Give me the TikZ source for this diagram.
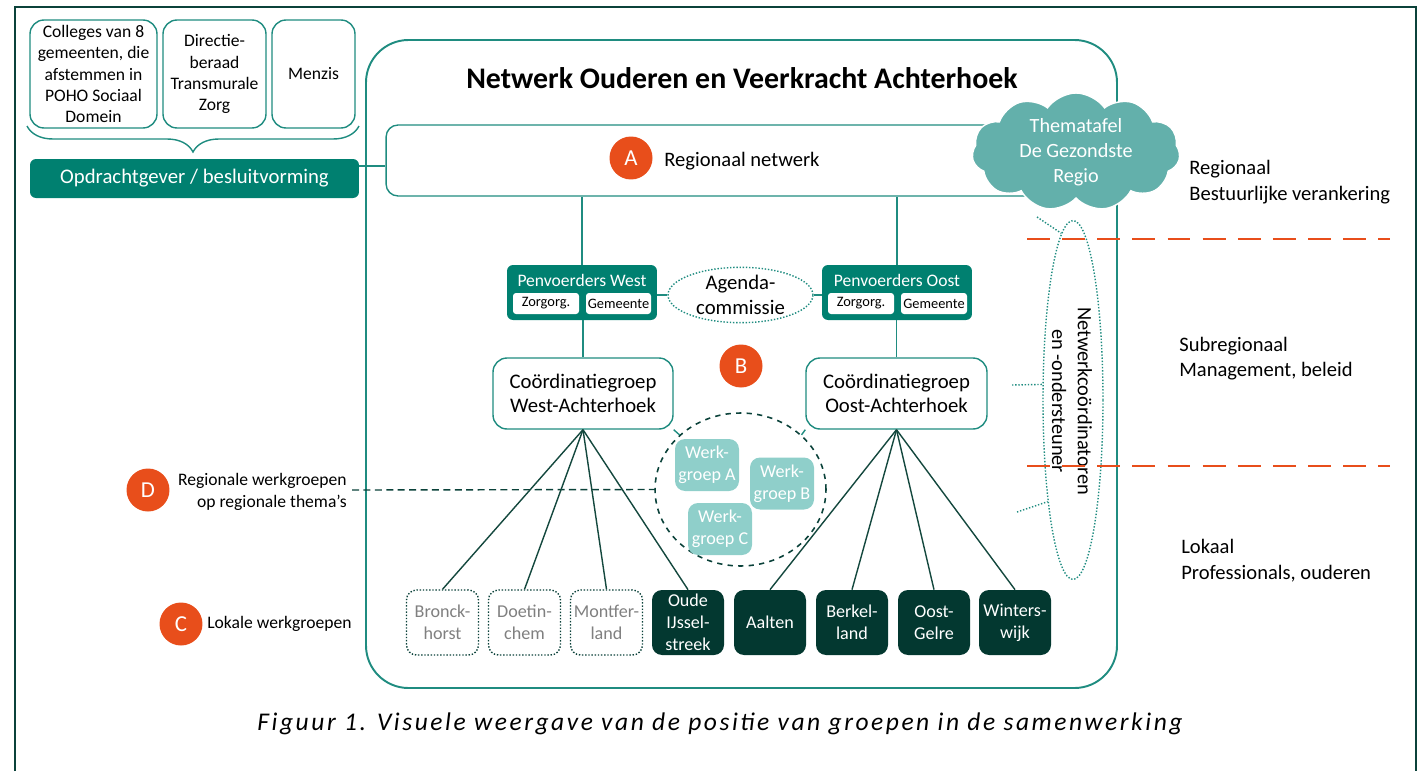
\documentclass[tikz,border=0pt]{standalone}
\usepackage{fontspec}
\setmainfont{Carlito}
\newfontfamily\capfont[LetterSpace=10]{Carlito}
\usetikzlibrary{shapes.geometric,shapes.symbols,decorations.pathreplacing}
\definecolor{kader}{RGB}{11,66,58}
\definecolor{nwteal}{RGB}{31,140,128}
\definecolor{vlak}{RGB}{0,128,112}
\definecolor{wolk}{RGB}{99,176,171}
\definecolor{wgvlak}{RGB}{143,207,202}
\definecolor{donker}{RGB}{3,56,48}
\definecolor{oranje}{RGB}{232,78,27}
\definecolor{waaier}{RGB}{20,72,62}
\newcommand\fsz[2]{\fontsize{#1}{#2}\selectfont}

\begin{document}
\begin{tikzpicture}[x=0.02cm,y=-0.02cm,
    lijn/.style={draw=nwteal,line width=0.8pt},
    wit/.style={draw=nwteal,line width=0.8pt,fill=white,rounded corners=0.28cm,align=center,inner sep=0pt},
    tealvlak/.style={fill=vlak,rounded corners=0.12cm,text=white,inner sep=0pt},
    mini/.style={fill=white,rounded corners=0.06cm,minimum height=0.42cm,inner sep=0pt,font=\fsz{8.2}{10}},
    badge/.style={circle,fill=oranje,text=white,minimum size=0.86cm,inner sep=0pt,font=\fsz{13}{15}},
    wgbox/.style={fill=wgvlak,rounded corners=0.2cm,text=white,align=center,inner sep=0pt,
        minimum width=1.28cm,minimum height=1.04cm,font=\fsz{10.3}{12.5}},
    gemdot/.style={draw=kader,densely dotted,line width=0.8pt,fill=white,text=black!50,rounded corners=0.2cm,
        align=center,inner sep=0pt,minimum width=1.44cm,minimum height=1.3cm,font=\fsz{10.3}{12.5}},
    gemdark/.style={fill=donker,text=white,rounded corners=0.2cm,
        align=center,inner sep=0pt,minimum width=1.44cm,minimum height=1.3cm,font=\fsz{10.3}{12.5}},
    waaierlijn/.style={draw=waaier,line width=0.8pt},
    stippel/.style={draw=nwteal,densely dotted,line width=0.8pt},
    grens/.style={draw=oranje,line width=1.4pt,dash pattern=on 13pt off 7pt},
    niveau/.style={anchor=west,align=left,inner sep=0pt,font=\fsz{11.7}{14.6}}]
    \useasboundingbox (0,0) rectangle (1420,771);
    \draw[kader,line width=1.5pt] (15,771) -- (15,7) -- (1416,7) -- (1416,771);
    % opdrachtgevers
    \node[wit,minimum width=2.54cm,minimum height=2.16cm,font=\fsz{10}{12}] (colleges) at (93.5,74)
        {Colleges van 8\\gemeenten, die\\afstemmen in\\POHO Sociaal\\Domein};
    \node[wit,minimum width=2.06cm,minimum height=2.16cm,font=\fsz{10}{12}] (directie) at (214.5,74)
        {Directie-\\beraad\\Transmurale\\Zorg};
    \node[wit,minimum width=1.66cm,minimum height=2.16cm,font=\fsz{10}{12}] (menzis) at (313.5,74) {Menzis};
    \draw[lijn,decorate,decoration={brace,mirror,amplitude=0.52cm}] (27,126) -- (359,126);
    \node[tealvlak,minimum width=6.58cm,minimum height=0.78cm,font=\fsz{11.8}{14}] (opdracht) at (194.5,178.5)
        {Opdrachtgever / besluitvorming};
    % netwerk
    \draw[nwteal,line width=1.1pt,rounded corners=0.85cm] (366,40) rectangle (1117,688);
    \node[font=\bfseries\fsz{17}{20}] (titel) at (742,78) {Netwerk Ouderen en Veerkracht Achterhoek};
    \node[wit,minimum width=13.48cm,minimum height=1.42cm,rounded corners=0.24cm] (regio) at (723,160.5) {};
    \node[badge] (bolA) at (631,158) {A};
    \node[anchor=west,inner sep=0pt,font=\fsz{11.7}{14}] (regiotekst) at (664,161) {Regionaal netwerk};
    \node[cloud,cloud puffs=11,cloud puff arc=110,aspect=1.75,fill=wolk,draw=white,line width=0.8pt,
        text=white,align=center,inner sep=0pt,minimum width=4.16cm,minimum height=2.36cm,
        font=\fsz{11.5}{14.2}] (thematafel) at (1076,152) {Thematafel\\De Gezondste\\Regio};
    \draw[lijn] ([yshift=0.25cm]opdracht.east) -- ([yshift=0.25cm]opdracht.east -| regio.west);
    % penvoerders
    \node[tealvlak,minimum width=3cm,minimum height=1.1cm] (pwest) at (582,292.5) {};
    \node[text=white,font=\fsz{10}{12}] (pwestkop) at (582,280) {Penvoerders West};
    \node[mini,minimum width=1.32cm] (pwzorg) at (546,303.5) {Zorgorg.};
    \node[mini,minimum width=1.3cm] (pwgem) at (618.5,303.5) {Gemeente};
    \node[tealvlak,minimum width=3cm,minimum height=1.1cm] (poost) at (897,292.5) {};
    \node[text=white,font=\fsz{10}{12}] (poostkop) at (897,280) {Penvoerders Oost};
    \node[mini,minimum width=1.32cm] (pozorg) at (861,303.5) {Zorgorg.};
    \node[mini,minimum width=1.32cm] (pogem) at (934,303.5) {Gemeente};
    \node[ellipse,stippel,align=center,inner sep=0pt,minimum width=2.9cm,minimum height=1.08cm,
        font=\fsz{11.8}{14}] (agenda) at (740.5,295) {Agenda-\\commissie};
    \draw[lijn] (pwest.north) -- (pwest.north |- regio.south);
    \draw[lijn] (poost.north) -- (poost.north |- regio.south);
    \draw[lijn] (pwest.east |- agenda.west) -- (agenda.west);
    \draw[lijn] (agenda.east) -- (poost.west |- agenda.east);
    % coordinatiegroepen
    \node[wit,minimum width=3.6cm,minimum height=1.42cm,font=\fsz{11.8}{14}] (cwest) at (583,393.5)
        {Coördinatiegroep\\West-Achterhoek};
    \node[wit,minimum width=3.62cm,minimum height=1.42cm,font=\fsz{11.8}{14}] (coost) at (896.5,393.5)
        {Coördinatiegroep\\Oost-Achterhoek};
    \draw[lijn] (pwest.south -| cwest.north) -- (cwest.north);
    \draw[lijn] (poost.south -| coost.north) -- (coost.north);
    \node[badge] (bolB) at (741,366) {B};
    % werkgroepen
    \node[ellipse,draw=kader,dashed,line width=0.9pt,minimum width=3.42cm,minimum height=3.06cm] (werkgroepen) at (740.5,489.5) {};
    \draw[lijn] (cwest.south east) -- (werkgroepen.north west);
    \draw[lijn] (coost.south west) -- (werkgroepen.north east);
    \node[wgbox] (wgA) at (707,465) {Werk-\\groep A};
    \node[wgbox] (wgB) at (782,483.5) {Werk-\\groep B};
    \node[wgbox] (wgC) at (720,529) {Werk-\\groep C};
    \node[badge] (bolD) at (148,490) {D};
    \node[anchor=east,align=right,inner sep=0pt,font=\fsz{10}{12.5}] (regwerk) at (347,492)
        {Regionale werkgroepen\\op regionale thema’s};
    \coordinate (dbegin) at (352,490);
    \draw[kader,line width=0.8pt,dash pattern=on 4pt off 2.5pt] (dbegin) -- (werkgroepen.west);
    % lokale werkgroepen
    \node[badge] (bolC) at (181,624) {C};
    \node[anchor=west,inner sep=0pt,font=\fsz{10}{12}] (lokwerk) at (207,624) {Lokale werkgroepen};
    \node[gemdot] (bronckhorst) at (442.5,622.5) {Bronck-\\horst};
    \node[gemdot] (doetinchem) at (524.5,622.5) {Doetin-\\chem};
    \node[gemdot] (montferland) at (606.5,622.5) {Montfer-\\land};
    \node[gemdark] (oude) at (688,622.5) {Oude\\IJssel-\\streek};
    \node[gemdark] (aalten) at (770,622.5) {Aalten};
    \node[gemdark] (berkelland) at (852,622.5) {Berkel-\\land};
    \node[gemdark] (oostgelre) at (934,622.5) {Oost-\\Gelre};
    \node[gemdark] (winterswijk) at (1015,622.5) {Winters-\\wijk};
    \draw[waaierlijn] (cwest.south) -- (bronckhorst.north);
    \draw[waaierlijn] (cwest.south) -- (doetinchem.north);
    \draw[waaierlijn] (cwest.south) -- (montferland.north);
    \draw[waaierlijn] (cwest.south) -- (oude.north);
    \draw[waaierlijn] (coost.south) -- (aalten.north);
    \draw[waaierlijn] (coost.south) -- (berkelland.north);
    \draw[waaierlijn] (coost.south) -- (oostgelre.north);
    \draw[waaierlijn] (coost.south) -- (winterswijk.north);
    % netwerkcoordinatoren
    \node[ellipse,stippel,minimum width=1.2cm,minimum height=7.18cm] (ondersteuning) at (1073,400) {};
    \node[rotate=-90,align=center,inner sep=0pt,font=\fsz{11.6}{14.7}] (ondersteuningtekst) at (1072,401)
        {Netwerkcoördinatoren\\en -ondersteuner};
    \coordinate (stip1) at (1037,217);
    \coordinate (stip2) at (1012,385);
    \coordinate (stip3) at (1017,512);
    \draw[stippel] (stip1) -- (ondersteuning.94);
    \draw[stippel] (stip2) -- (ondersteuning.153);
    \draw[stippel] (stip3) -- (ondersteuning.256);
    % niveaus
    \coordinate (grens1a) at (1027,239);
    \coordinate (grens1b) at (1390,239);
    \coordinate (grens2a) at (1027,466);
    \coordinate (grens2b) at (1390,466);
    \draw[grens] (grens1a) -- (grens1b);
    \draw[grens] (grens2a) -- (grens2b);
    \node[niveau] (nivregio) at (1189,182) {Regionaal\\Bestuurlijke verankering};
    \node[niveau] (nivsub) at (1179,358.5) {Subregionaal\\Management, beleid};
    \node[niveau] (nivlok) at (1181,560.5) {Lokaal\\Professionals, ouderen};
    \node[font=\capfont\itshape\fsz{14.5}{16}] (bijschrift) at (720,724)
        {Figuur 1. Visuele weergave van de positie van groepen in de samenwerking};
\end{tikzpicture}
\end{document}
